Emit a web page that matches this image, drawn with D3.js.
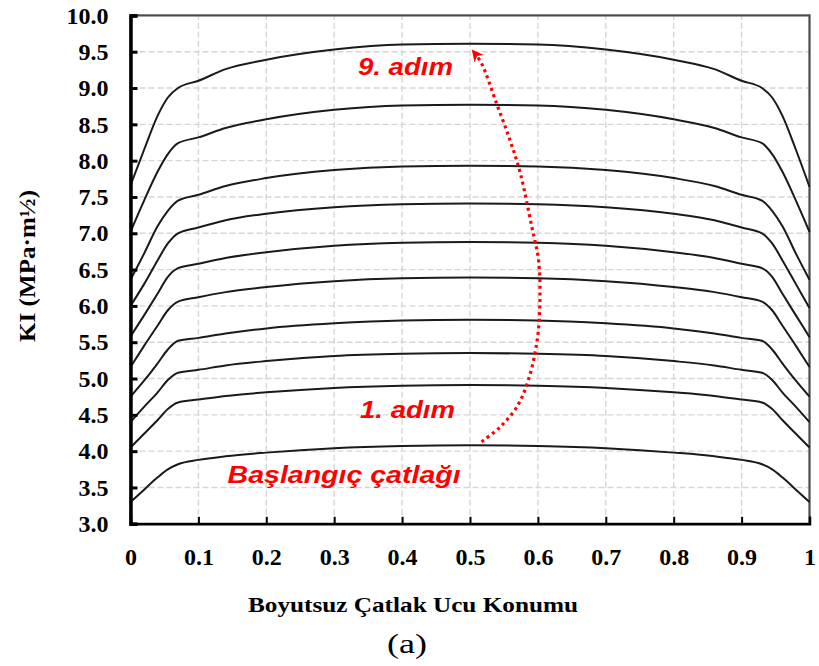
<!DOCTYPE html>
<html><head><meta charset="utf-8">
<script src="https://cdn.jsdelivr.net/npm/d3@7"></script>
<style>
html,body{margin:0;padding:0;background:#fff;}
svg{display:block;}
</style></head>
<body>
<svg id="chart" width="819" height="666"></svg>
<script>
// ---------- DATA ----------
const xPos = [0, 0.02, 0.04, 0.055, 0.07, 0.1, 0.14, 0.2, 0.3, 0.4, 0.5, 0.6, 0.7, 0.8, 0.86, 0.9, 0.93, 0.945, 0.96, 0.98, 1];
const baslangic = [3.30,3.47,3.64,3.75,3.82,3.88,3.93,3.98,4.04,4.07,4.08,4.07,4.04,3.98,3.93,3.88,3.82,3.75,3.64,3.47,3.30];
const adim1 = [4.05,4.24,4.43,4.58,4.67,4.71,4.76,4.81,4.87,4.90,4.91,4.90,4.87,4.81,4.76,4.71,4.67,4.58,4.43,4.24,4.05];
const adim2 = [4.40,4.61,4.81,4.98,5.08,5.12,5.18,5.24,5.31,5.34,5.35,5.34,5.31,5.24,5.18,5.12,5.08,4.98,4.81,4.61,4.40];
const adim3 = [4.75,4.97,5.21,5.40,5.52,5.56,5.62,5.69,5.76,5.80,5.81,5.80,5.76,5.69,5.62,5.56,5.52,5.40,5.21,4.97,4.75];
const adim4 = [5.16,5.45,5.73,5.94,6.06,6.12,6.19,6.26,6.34,6.38,6.39,6.38,6.34,6.26,6.19,6.12,6.06,5.94,5.73,5.45,5.16];
const adim5 = [5.58,5.87,6.17,6.40,6.52,6.58,6.66,6.74,6.83,6.87,6.88,6.87,6.83,6.74,6.66,6.58,6.52,6.40,6.17,5.87,5.57];
const adim6 = [6.00,6.30,6.63,6.86,7.00,7.08,7.18,7.27,7.36,7.40,7.41,7.40,7.36,7.27,7.18,7.08,7.00,6.86,6.63,6.30,5.97];
const adim7 = [6.36,6.72,7.10,7.31,7.45,7.53,7.65,7.76,7.87,7.92,7.93,7.92,7.87,7.76,7.65,7.53,7.45,7.31,7.10,6.72,6.36];
const adim8 = [7.02,7.45,7.85,8.09,8.24,8.32,8.45,8.57,8.70,8.76,8.77,8.76,8.70,8.57,8.45,8.32,8.24,8.09,7.85,7.45,7.02];
const adim9 = [7.66,8.15,8.62,8.87,9.00,9.10,9.26,9.39,9.53,9.60,9.61,9.60,9.53,9.39,9.26,9.10,9.00,8.87,8.62,8.15,7.64];
const seriesList = [baslangic, adim1, adim2, adim3, adim4, adim5, adim6, adim7, adim8, adim9];

const xTicks = [0,0.1,0.2,0.3,0.4,0.5,0.6,0.7,0.8,0.9,1];
const xTickLabels = ["0","0.1","0.2","0.3","0.4","0.5","0.6","0.7","0.8","0.9","1"];
const yTicks = [3,3.5,4,4.5,5,5.5,6,6.5,7,7.5,8,8.5,9,9.5,10];
const yTickLabels = ["3.0","3.5","4.0","4.5","5.0","5.5","6.0","6.5","7.0","7.5","8.0","8.5","9.0","9.5","10.0"];

const xTitle = "Boyutsuz Çatlak Ucu Konumu";
const yTitle = "KI (MPa·m½)";
const caption = "(a)";

// annotation arrow path (data coords: position, KI)
const arrowX = [0.517,0.544,0.569,0.586,0.599,0.603,0.601,0.591,0.574,0.559,0.539,0.517,0.507];
const arrowY = [4.13,4.33,4.61,4.98,5.53,6.08,6.63,7.09,7.83,8.28,8.79,9.34,9.48];
const noteTexts = ["9. adım","1. adım","Başlangıç çatlağı"];
const noteX = [0.335,0.338,0.143];
const noteY = [9.18,4.46,3.56];
const noteW = [95,95,233];

// ---------- CHART ----------
const svg = d3.select("#chart");
const x = d3.scaleLinear().domain([0,1]).range([130.5,809.5]);
const y = d3.scaleLinear().domain([3,10]).range([523.8,15.4]);
const serif = "'Liberation Serif','Times New Roman',serif";
const sans = "'Liberation Sans',Arial,sans-serif";

// grid
const grid = svg.append("g");
grid.selectAll("line.hg").data(yTicks.filter(v=>v>3 && v<10)).enter().append("line")
  .attr("x1",x(0)).attr("x2",x(1)).attr("y1",d=>y(d)).attr("y2",d=>y(d))
  .attr("stroke","#d6d6d6").attr("stroke-width",1.4).attr("stroke-dasharray","6,3");
grid.selectAll("line.vg").data(xTicks.filter(v=>v>0 && v<1)).enter().append("line")
  .attr("y1",y(3)).attr("y2",y(10)).attr("x1",d=>x(d)).attr("x2",d=>x(d))
  .attr("stroke","#d6d6d6").attr("stroke-width",1.4).attr("stroke-dasharray","6,3");

// frame
svg.append("rect").attr("x",x(0)).attr("y",y(10)).attr("width",x(1)-x(0)).attr("height",y(3)-y(10))
  .attr("fill","none").attr("stroke","#4a4a4a").attr("stroke-width",2.2);

// curves
const line = d3.line().x((d,i)=>x(xPos[i])).y(d=>y(d)).curve(d3.curveMonotoneX);
svg.append("g").selectAll("path").data(seriesList).enter().append("path")
  .attr("d",line).attr("fill","none").attr("stroke","#1a1a1a").attr("stroke-width",2);

// axes
const yAxis = d3.axisLeft(y).tickValues(yTicks).tickFormat((d,i)=>yTickLabels[i]).tickSize(-7).tickPadding(22);
const gy = svg.append("g").attr("transform",`translate(${x(0)},0)`).call(yAxis);
gy.select(".domain").attr("stroke","#000").attr("stroke-width",3.5);
gy.selectAll(".tick line").attr("stroke","#000").attr("stroke-width",3);
gy.selectAll(".tick text").attr("font-family",serif).attr("font-weight","bold").attr("font-size",24).attr("fill","#000");

const xAxis = d3.axisBottom(x).tickValues(xTicks).tickFormat((d,i)=>xTickLabels[i]).tickSize(-7).tickPadding(24);
const gx = svg.append("g").attr("transform",`translate(0,${y(3)})`).call(xAxis);
gx.select(".domain").attr("stroke","#000").attr("stroke-width",2.5);
gx.selectAll(".tick line").attr("stroke","#000").attr("stroke-width",2);
gx.selectAll(".tick text").attr("font-family",serif).attr("font-weight","bold").attr("font-size",24).attr("fill","#000");

// titles
svg.append("text").attr("x",413).attr("y",612).attr("text-anchor","middle")
  .attr("font-family",serif).attr("font-weight","bold").attr("font-size",22)
  .attr("textLength",330).attr("lengthAdjust","spacingAndGlyphs").text(xTitle);
svg.append("text").attr("x",407).attr("y",653).attr("text-anchor","middle")
  .attr("font-family",serif).attr("font-size",28)
  .attr("textLength",40).attr("lengthAdjust","spacingAndGlyphs").text(caption);
svg.append("text").attr("transform","translate(35,266) rotate(-90)").attr("text-anchor","middle")
  .attr("font-family",serif).attr("font-weight","bold").attr("font-size",23)
  .attr("textLength",152).attr("lengthAdjust","spacingAndGlyphs").text(yTitle);

// arrow
const defs = svg.append("defs");
defs.append("marker").attr("id","ah").attr("viewBox","0 0 10 10").attr("refX",6).attr("refY",5)
  .attr("markerWidth",13).attr("markerHeight",12).attr("markerUnits","userSpaceOnUse").attr("orient","auto")
  .append("path").attr("d","M0,0 L10,5 L0,10 L3,5 z").attr("fill","#ff0000");
const aline = d3.line().x((d,i)=>x(arrowX[i])).y(d=>y(d)).curve(d3.curveCatmullRom);
svg.append("path").attr("d",aline(arrowY)).attr("fill","none").attr("stroke","#ff0000")
  .attr("stroke-width",3.2).attr("stroke-dasharray","3,3.6").attr("marker-end","url(#ah)");

// notes
svg.append("g").selectAll("text").data(noteTexts).enter().append("text")
  .attr("x",(d,i)=>x(noteX[i])).attr("y",(d,i)=>y(noteY[i]))
  .attr("font-family",sans).attr("font-weight","bold").attr("font-style","italic").attr("font-size",24)
  .attr("fill","#ff0000").attr("textLength",(d,i)=>noteW[i]).attr("lengthAdjust","spacingAndGlyphs")
  .text(d=>d);
</script>
</body></html>
